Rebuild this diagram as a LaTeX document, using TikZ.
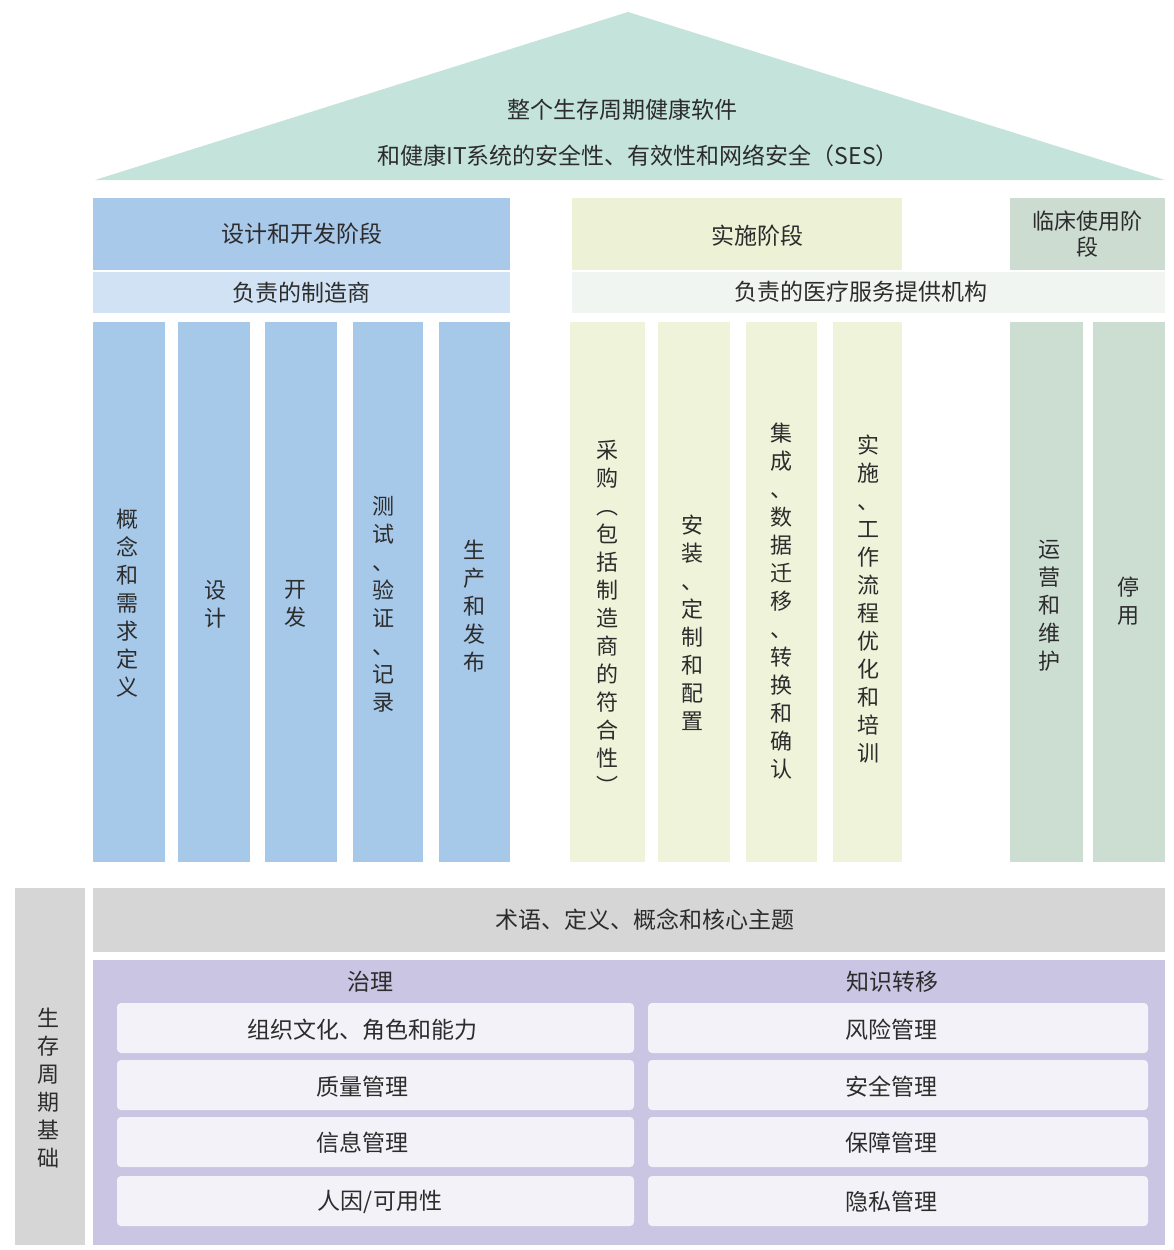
\documentclass[tikz,border=0pt]{standalone}
\usepackage{fontspec}
\newfontfamily\cjk{Noto Sans CJK SC}
\definecolor{roofc}{HTML}{C4E4DB}
\definecolor{bluehead}{HTML}{A9C9EA}
\definecolor{blueband}{HTML}{D0E2F3}
\definecolor{bluecol}{HTML}{A6C8E9}
\definecolor{greenhead}{HTML}{EDF2D7}
\definecolor{greenband}{HTML}{F1F5F2}
\definecolor{greencol}{HTML}{EEF3D9}
\definecolor{sagehead}{HTML}{CCDCD1}
\definecolor{sagecol}{HTML}{CCDDD2}
\definecolor{greyc}{HTML}{D6D6D6}
\definecolor{purplec}{HTML}{C9C5E3}
\definecolor{rowc}{HTML}{F3F2F8}
\definecolor{txt}{HTML}{2C2C2C}
\begin{document}
\begin{tikzpicture}[x=1pt,y=-1pt,
  every node/.style={font=\cjk\fontsize{23}{28}\selectfont, text=txt, inner sep=0pt, align=center},
  box/.style={rectangle, draw=none},
  colbox/.style={box, minimum width=72pt, minimum height=540pt},
  vtext/.style={font=\cjk\fontsize{22}{28}\selectfont},
  rowbox/.style={box, fill=rowc, rounded corners=4pt, minimum height=50pt},
]
\useasboundingbox (0,0) rectangle (1173,1250);
% roof
\fill[roofc] (95,180) -- (628,12) -- (1165,180) -- cycle;
\node (roof1) at (622,110) {整个生存周期健康软件};
\node (roof2) at (638,156) {和健康IT系统的安全性、有效性和网络安全（SES）};
% headers
\node[box, fill=bluehead, minimum width=417pt, minimum height=72pt] (dhead) at (301.5,234) {设计和开发阶段};
\node[box, fill=blueband, minimum width=417pt, minimum height=41pt] (dband) at (301.5,292.5) {负责的制造商};
\node[box, fill=greenhead, minimum width=330pt, minimum height=72pt] (ihead) at (737,234) {};
\node (iheadt) at (757,236) {实施阶段};
\node[box, fill=sagehead, minimum width=155pt, minimum height=72pt, font=\cjk\fontsize{22}{26}\selectfont] (chead) at (1087.5,234) {临床使用阶\\段};
\node[box, fill=greenband, minimum width=593pt, minimum height=41pt] (iband) at (868.5,292.5) {};
\node (ibandt) at (861,292) {负责的医疗服务提供机构};
% blue columns
\node[colbox, fill=bluecol, minimum width=72pt] (b1) at (129,592) {};
\node[colbox, fill=bluecol, minimum width=72pt] (b2) at (214,592) {};
\node[colbox, fill=bluecol, minimum width=72pt] (b3) at (301,592) {};
\node[colbox, fill=bluecol, minimum width=70pt] (b4) at (388,592) {};
\node[colbox, fill=bluecol, minimum width=71pt] (b5) at (474.5,592) {};
\node[vtext] (b1t) at (127,603) {概\\念\\和\\需\\求\\定\\义};
\node[vtext] (b2t) at (215,604) {设\\计};
\node[vtext] (b3t) at (295,604) {开\\发};
\node[vtext] (b4t) at (383,604) {测\\试\\、\\验\\证\\、\\记\\录};
\node[vtext] (b5t) at (474,606) {生\\产\\和\\发\\布};
% green columns
\node[colbox, fill=greencol, minimum width=75pt] (g1) at (607.5,592) {};
\node[colbox, fill=greencol, minimum width=72pt] (g2) at (694,592) {};
\node[colbox, fill=greencol, minimum width=71pt] (g3) at (781.5,592) {};
\node[colbox, fill=greencol, minimum width=69pt] (g4) at (867.5,592) {};
\node[vtext] (g1t) at (607,617) {采\\购\\︵\\包\\括\\制\\造\\商\\的\\符\\合\\性\\︶};
\node[vtext] (g2t) at (692,623) {安\\装\\、\\定\\制\\和\\配\\置};
\node[vtext] (g3t) at (781,601) {集\\成\\、\\数\\据\\迁\\移\\、\\转\\换\\和\\确\\认};
\node[vtext] (g4t) at (868,599) {实\\施\\、\\工\\作\\流\\程\\优\\化\\和\\培\\训};
% sage columns
\node[colbox, fill=sagecol, minimum width=73pt] (s1) at (1046.5,592) {};
\node[colbox, fill=sagecol, minimum width=72pt] (s2) at (1129,592) {};
\node[vtext] (s1t) at (1049,606) {运\\营\\和\\维\\护};
\node[vtext] (s2t) at (1128,601) {停\\用};
% foundation
\node[box, fill=greyc, minimum width=70pt, minimum height=357pt] (found) at (50,1066.5) {};
\node[vtext] (foundt) at (48,1088) {生\\存\\周\\期\\基\\础};
\node[box, fill=greyc, minimum width=1072pt, minimum height=64pt] (terms) at (629,920) {};
\node (termst) at (645,920) {术语、定义、概念和核心主题};
\node[box, fill=purplec, minimum width=1072pt, minimum height=285pt] (panel) at (629,1102.5) {};
\node (gov) at (370,982) {治理};
\node (know) at (892,982) {知识转移};
% rows
\node[rowbox, minimum width=517pt] (l1) at (375.5,1028) {};
\node[rowbox, minimum width=517pt] (l2) at (375.5,1085) {};
\node[rowbox, minimum width=517pt] (l3) at (375.5,1142) {};
\node[rowbox, minimum width=517pt] (l4) at (375.5,1201) {};
\node[rowbox, minimum width=500pt] (r1) at (898,1028) {};
\node[rowbox, minimum width=500pt] (r2) at (898,1085) {};
\node[rowbox, minimum width=500pt] (r3) at (898,1142) {};
\node[rowbox, minimum width=500pt] (r4) at (898,1201) {};
\node (l1t) at (362,1030) {组织文化、角色和能力};
\node (l2t) at (362,1087) {质量管理};
\node (l3t) at (362,1143) {信息管理};
\node (l4t) at (380,1202) {人因/可用性};
\node (r1t) at (891,1030) {风险管理};
\node (r2t) at (891,1087) {安全管理};
\node (r3t) at (891,1143) {保障管理};
\node (r4t) at (891,1202) {隐私管理};
\end{tikzpicture}
\end{document}
